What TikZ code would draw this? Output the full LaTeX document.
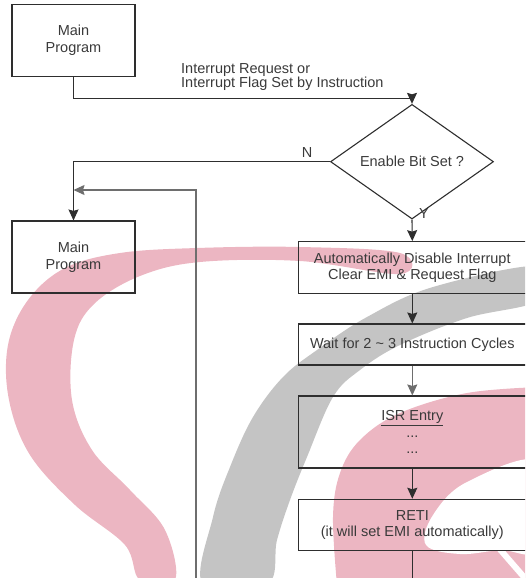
\documentclass[tikz,border=0pt]{standalone}
\usepackage{fontspec}
\setmainfont{Liberation Sans}
\usetikzlibrary{arrows.meta, shapes.geometric}
\definecolor{InkGray}{HTML}{2E2E2E}
\definecolor{TextGray}{HTML}{3A3A3A}
\definecolor{MidGray}{HTML}{6E6E6E}
\definecolor{WaterPink}{HTML}{ECB6C2}
\definecolor{WaterGray}{HTML}{C4C4C4}
\tikzset{
  prog/.style={draw=InkGray, line width=1.1pt, align=center, minimum width=123pt, minimum height=72pt, inner sep=0pt, text=TextGray, font=\fontsize{14.5}{16.5}\selectfont},
  stepbox/.style={draw=InkGray, line width=1.1pt, align=center, minimum width=228pt, inner sep=0pt, text=TextGray, font=\fontsize{14.5}{16.5}\selectfont},
  decision/.style={diamond, draw=InkGray, line width=1.1pt, minimum width=163pt, minimum height=67pt, inner sep=0pt, text=TextGray, font=\fontsize{14.5}{16.5}\selectfont},
  tag/.style={inner sep=0pt, align=left, text=TextGray, font=\fontsize{14.5}{14}\selectfont},
  arrow/.style={-{Stealth[length=11pt,width=10pt,inset=1.5pt]}, line width=1.1pt, draw=InkGray},
  grayarrow/.style={-{Stealth[length=11pt,width=10pt,inset=1.5pt]}, line width=1.1pt, draw=MidGray}
}

\begin{document}
\begin{tikzpicture}[x=1pt,y=-1pt]
\useasboundingbox (0,0) rectangle (525,578);
\clip (0,0) rectangle (525,578);

% watermark bands
\fill[WaterPink] plot[smooth cycle, tension=0.6] coordinates {
  (400,253) (300,247) (197,248) (120,253) (65,268) (28,300) (8,345) (9,400)
  (30,455) (75,505) (125,545) (140,580) (175,580) (165,530) (130,490) (92,450)
  (72,400) (74,340) (94,304) (140,276) (200,262) (300,261) (400,274)};
\fill[WaterGray] plot[smooth cycle, tension=0.6] coordinates {
  (540,266) (433,287) (367,317) (317,350) (283,377) (253,417) (230,467)
  (213,517) (203,585) (267,585) (277,540) (290,500) (307,457) (333,397)
  (360,370) (400,345) (467,318) (540,300)};
\fill[WaterPink] plot[smooth, tension=0.6] coordinates {
  (337,585) (333,517) (340,473) (360,440) (400,413) (467,393) (540,387)}
  -- (540,585) -- cycle;
\fill[white] plot[smooth cycle, tension=0.6] coordinates {
  (540,462) (467,482) (433,515) (426,545) (460,554) (500,550) (540,548)};
\draw[white, line width=6pt] (497,546) -- (530,584);

\node[prog] (main1) at (73.5,40.5) {Main\\Program};
\node[tag, anchor=west] (irq) at (181,77) {Interrupt Request or\\Interrupt Flag Set by Instruction};
\node[decision] (cond) at (412,161.7) {Enable Bit Set ?};
\node[tag] (no) at (307,153) {N};
\node[tag] (yes) at (424,214) {Y};
\node[prog] (main2) at (73.5,257) {Main\\Program};

\node[stepbox, minimum height=51.6pt] (disable) at (412.3,267.5) {Automatically Disable Interrupt\\Clear EMI \& Request Flag};
\node[stepbox, minimum height=41pt] (wait) at (412.3,344.5) {Wait for 2 \textasciitilde{} 3 Instruction Cycles};
\node[stepbox, minimum height=72pt] (isr) at (412.3,432) {\underline{ISR Entry}\\...\\...};
\node[stepbox, minimum height=51.4pt] (reti) at (412.3,525) {RETI\\(it will set EMI automatically)};

\coordinate (joint) at (73.5,190);
\coordinate (loopfoot) at (196,590);
\coordinate (exit) at (412.3,590);

\draw[arrow] (main1.south) -- ++(0,21.5) -| (cond.north);
\draw[arrow] (cond.west) -| (main2.north);
\draw[grayarrow] (loopfoot) |- (joint);
\draw[arrow] (cond.south) -- (disable.north);
\draw[arrow] (disable) -- (wait);
\draw[grayarrow] (wait) -- (isr);
\draw[arrow] (isr) -- (reti);
\draw[InkGray, line width=1.1pt] (reti.south) -- (exit);
\end{tikzpicture}
\end{document}
